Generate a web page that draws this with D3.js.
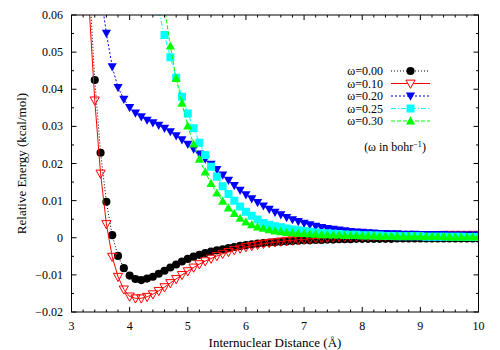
<!DOCTYPE html>
<html>
<head>
<meta charset="utf-8">
<script src="https://cdn.jsdelivr.net/npm/d3@7"></script>
<style>
  body { margin: 0; background: #fff; }
  svg text { font-family: "Liberation Serif", "Times New Roman", Times, serif; fill: #000; }
</style>
</head>
<body>
<svg id="chart" width="500" height="350"></svg>
<script>
// internuclear distance grid (Å)
const distance = [3.3, 3.4, 3.5, 3.6, 3.7, 3.8, 3.9, 4.0, 4.1, 4.2, 4.3, 4.4, 4.5, 4.6, 4.7, 4.8, 4.9,
  5.0, 5.1, 5.2, 5.3, 5.4, 5.5, 5.6, 5.7, 5.8, 5.9, 6.0, 6.1, 6.2, 6.3, 6.4, 6.5, 6.6, 6.7, 6.8, 6.9,
  7.0, 7.1, 7.2, 7.3, 7.4, 7.5, 7.6, 7.7, 7.8, 7.9, 8.0, 8.1, 8.2, 8.3, 8.4, 8.5, 8.6, 8.7, 8.8, 8.9,
  9.0, 9.1, 9.2, 9.3, 9.4, 9.5, 9.6, 9.7, 9.8, 9.9, 10.0];

// relative energies (kcal/mol), null where the curve is not drawn
const w000 = [0.070, 0.0425, 0.0229, 0.0097, 0.0007, -0.0049, -0.0082, -0.0102, -0.0111, -0.0114, -0.0110, -0.0105, -0.0097,
  -0.0089, -0.0080, -0.0072, -0.0064, -0.0057, -0.0051, -0.0046, -0.0041, -0.0037, -0.0034, -0.0031, -0.0028, -0.0025, -0.0022,
  -0.0020, -0.0018, -0.0016, -0.0014, -0.0013, -0.0012, -0.0011, -0.0010, -0.0009, -0.0008, -0.0007, -0.0007, -0.0006, -0.0006,
  -0.0005, -0.0005, -0.0004, -0.0004, -0.0004, -0.0003, -0.0003, -0.0003, -0.0003, -0.0003, -0.0003, -0.0003, -0.0002, -0.0002,
  -0.0002, -0.0002, -0.0002, -0.0002, -0.0002, -0.0002, -0.0002, -0.0002, -0.0002, -0.0002, -0.0002, -0.0002, -0.0002];
const w010 = [0.063, 0.0370, 0.0173, 0.0037, -0.0051, -0.0105, -0.0139, -0.0158, -0.0163, -0.0163, -0.0159, -0.0152, -0.0143,
  -0.0133, -0.0122, -0.0111, -0.0100, -0.0090, -0.0080, -0.0071, -0.0063, -0.0056, -0.0049, -0.0043, -0.0038, -0.0033, -0.0029,
  -0.0025, -0.0022, -0.0019, -0.0016, -0.0014, -0.0012, -0.0010, -0.0008, -0.0007, -0.0005, -0.0004, -0.0003, -0.0002, -0.0001,
  0.0000, 0.0001, 0.0002, 0.0002, 0.0003, 0.0003, 0.0004, 0.0004, 0.0005, 0.0005, 0.0005, 0.0006, 0.0006, 0.0006, 0.0006, 0.0007,
  0.0007, 0.0007, 0.0007, 0.0007, 0.0008, 0.0008, 0.0008, 0.0008, 0.0008, 0.0008, 0.0008];
const w020 = [null, null, 0.066, 0.0551, 0.0461, 0.0405, 0.0373, 0.0351, 0.0336, 0.0326, 0.0317, 0.0310, 0.0303,
  0.0295, 0.0286, 0.0275, 0.0264, 0.0252, 0.0239, 0.0226, 0.0212, 0.0198, 0.0184, 0.0169, 0.0155, 0.0141, 0.0128,
  0.0116, 0.0105, 0.0095, 0.0086, 0.0077, 0.0069, 0.0062, 0.0055, 0.0049, 0.0044, 0.0039, 0.0035, 0.0031, 0.0028,
  0.0025, 0.0023, 0.0021, 0.0019, 0.0017, 0.0016, 0.0015, 0.0014, 0.0013, 0.0012, 0.0012, 0.0011, 0.0011, 0.0010, 0.0010, 0.0010,
  0.0009, 0.0009, 0.0009, 0.0009, 0.0009, 0.0008, 0.0008, 0.0008, 0.0008, 0.0008, 0.0008];
const w025 = [null, null, null, null, null, null, null, null, null, null, null, null, 0.061,
  0.0546, 0.0486, 0.0431, 0.0380, 0.0335, 0.0295, 0.0256, 0.0223, 0.0191, 0.0164, 0.0139, 0.0118, 0.0100, 0.0084,
  0.0070, 0.0059, 0.0049, 0.0040, 0.0035, 0.0031, 0.0028, 0.0025, 0.0022, 0.0020, 0.0018, 0.0016, 0.0014, 0.0013,
  0.0012, 0.0011, 0.0010, 0.0009, 0.0008, 0.0008, 0.0007, 0.0007, 0.0006, 0.0006, 0.0005, 0.0005, 0.0004, 0.0004, 0.0004, 0.0004,
  0.0004, 0.0003, 0.0003, 0.0003, 0.0003, 0.0003, 0.0003, 0.0003, 0.0002, 0.0002, 0.0002];
const w030 = [null, null, null, null, null, null, null, null, null, null, null, null, null,
  0.062, 0.0516, 0.0429, 0.0362, 0.0301, 0.0252, 0.0211, 0.0177, 0.0146, 0.0120, 0.0098, 0.0080, 0.0065, 0.0052,
  0.0042, 0.0035, 0.0029, 0.0025, 0.0021, 0.0018, 0.0016, 0.0014, 0.0013, 0.0012, 0.0011, 0.0010, 0.0009, 0.0008,
  0.0008, 0.0007, 0.0007, 0.0006, 0.0006, 0.0006, 0.0005, 0.0005, 0.0005, 0.0004, 0.0004, 0.0004, 0.0004, 0.0003, 0.0003, 0.0003,
  0.0003, 0.0003, 0.0003, 0.0003, 0.0003, 0.0002, 0.0002, 0.0002, 0.0002, 0.0002, 0.0002];

const seriesLabels = ['ω=0.00', 'ω=0.10', 'ω=0.20', 'ω=0.25', 'ω=0.30'];
const xTicks = [3, 4, 5, 6, 7, 8, 9, 10];
const yTicks = [-0.02, -0.01, 0, 0.01, 0.02, 0.03, 0.04, 0.05, 0.06];

const series = [
  { label: seriesLabels[0], values: w000, color: '#000000', dash: '1,2', marker: 'circle', open: false },
  { label: seriesLabels[1], values: w010, color: '#ff0000', dash: null, marker: 'tridown', open: true },
  { label: seriesLabels[2], values: w020, color: '#0000ff', dash: '2,2', marker: 'tridown', open: false },
  { label: seriesLabels[3], values: w025, color: '#00ffff', dash: '5,2,1,2', marker: 'square', open: false },
  { label: seriesLabels[4], values: w030, color: '#00ff00', dash: '4,2', marker: 'triup', open: false }
];

const FONT = '"Liberation Serif", "Times New Roman", Times, serif';
const L = 71.5, R = 478.5, T = 15, B = 312;

const svg = d3.select('#chart');
const x = d3.scaleLinear().domain([3, 10]).range([L, R]);
const y = d3.scaleLinear().domain([-0.02, 0.06]).range([B, T]);

function markerPath(type) {
  if (type === 'circle') return d3.symbol(d3.symbolCircle, 52)();
  if (type === 'square') return 'M-4,-4H4V4H-4Z';
  if (type === 'triup') return 'M0,-4.8L4.6,3.4L-4.6,3.4Z';
  return 'M0,4.8L4.6,-3.4L-4.6,-3.4Z';
}

svg.append('defs').append('clipPath').attr('id', 'plotclip')
  .append('rect').attr('x', L).attr('y', T).attr('width', R - L).attr('height', B - T);

// ticks, inward on all four sides
const tickG = svg.append('g').attr('stroke', '#000').attr('stroke-width', 1);
const xMinor = d3.range(3, 10.001, 0.2);
const yMinor = d3.range(-0.02, 0.0601, 0.005);
xMinor.forEach(v => {
  const major = Math.abs(v - Math.round(v)) < 1e-6;
  const len = major ? 5 : 2.5;
  tickG.append('line').attr('x1', x(v)).attr('x2', x(v)).attr('y1', B).attr('y2', B - len);
  tickG.append('line').attr('x1', x(v)).attr('x2', x(v)).attr('y1', T).attr('y2', T + len);
});
yMinor.forEach(v => {
  const major = Math.abs(v * 100 - Math.round(v * 100)) < 1e-6;
  const len = major ? 5 : 2.5;
  tickG.append('line').attr('x1', L).attr('x2', L + len).attr('y1', y(v)).attr('y2', y(v));
  tickG.append('line').attr('x1', R).attr('x2', R - len).attr('y1', y(v)).attr('y2', y(v));
});

// tick labels
svg.append('g').selectAll('text').data(xTicks).join('text')
  .attr('x', d => x(d)).attr('y', 330)
  .attr('text-anchor', 'middle').attr('font-family', FONT).attr('font-size', 12)
  .text(d => d);
svg.append('g').selectAll('text').data(yTicks).join('text')
  .attr('x', 63).attr('y', d => y(d) + 4)
  .attr('text-anchor', 'end').attr('font-family', FONT).attr('font-size', 12)
  .text(d => d === 0 ? '0' : (d < 0 ? '−' + Math.abs(d) : d));

// curves
const plot = svg.append('g').attr('clip-path', 'url(#plotclip)');
for (const s of series) {
  const pts = distance.map((d, i) => ({ x: d, y: s.values[i] })).filter(p => p.y !== null);
  plot.append('path')
    .datum(pts)
    .attr('fill', 'none')
    .attr('stroke', s.color)
    .attr('stroke-width', 1)
    .attr('stroke-dasharray', s.dash)
    .attr('d', d3.line().x(p => x(p.x)).y(p => y(p.y)));
  plot.selectAll(null).data(pts).join('path')
    .attr('transform', p => `translate(${x(p.x)},${y(p.y)})`)
    .attr('d', markerPath(s.marker))
    .attr('fill', s.open ? 'none' : s.color)
    .attr('stroke', s.open ? s.color : 'none')
    .attr('stroke-width', 1);
}

// frame
svg.append('rect').attr('x', L).attr('y', T).attr('width', R - L).attr('height', B - T)
  .attr('fill', 'none').attr('stroke', '#000').attr('stroke-width', 1);

// axis titles
svg.append('text').attr('x', (L + R) / 2).attr('y', 347)
  .attr('text-anchor', 'middle').attr('font-family', FONT).attr('font-size', 13)
  .text('Internuclear Distance (Å)');
svg.append('text')
  .attr('transform', `translate(26,${(T + B) / 2}) rotate(-90)`)
  .attr('text-anchor', 'middle').attr('font-family', FONT).attr('font-size', 13)
  .text('Relative Energy (kcal/mol)');

// legend
const legend = svg.append('g');
series.forEach((s, i) => {
  const ly = 71 + i * 12.5;
  legend.append('text').attr('x', 383).attr('y', ly + 4)
    .attr('text-anchor', 'end').attr('font-family', FONT).attr('font-size', 12).text(s.label);
  legend.append('line').attr('x1', 391).attr('x2', 430).attr('y1', ly).attr('y2', ly)
    .attr('stroke', s.color).attr('stroke-width', 1).attr('stroke-dasharray', s.dash);
  legend.append('path').attr('transform', `translate(410.5,${ly})`)
    .attr('d', markerPath(s.marker))
    .attr('fill', s.open ? '#fff' : s.color)
    .attr('stroke', s.open ? s.color : 'none');
});
const note = legend.append('text').attr('x', 395).attr('y', 151)
  .attr('text-anchor', 'middle').attr('font-family', FONT).attr('font-size', 12);
note.append('tspan').text('(ω in bohr');
note.append('tspan').attr('dy', -4).attr('font-size', 8).text('−1');
note.append('tspan').attr('dy', 4).text(')');
</script>
</body>
</html>
